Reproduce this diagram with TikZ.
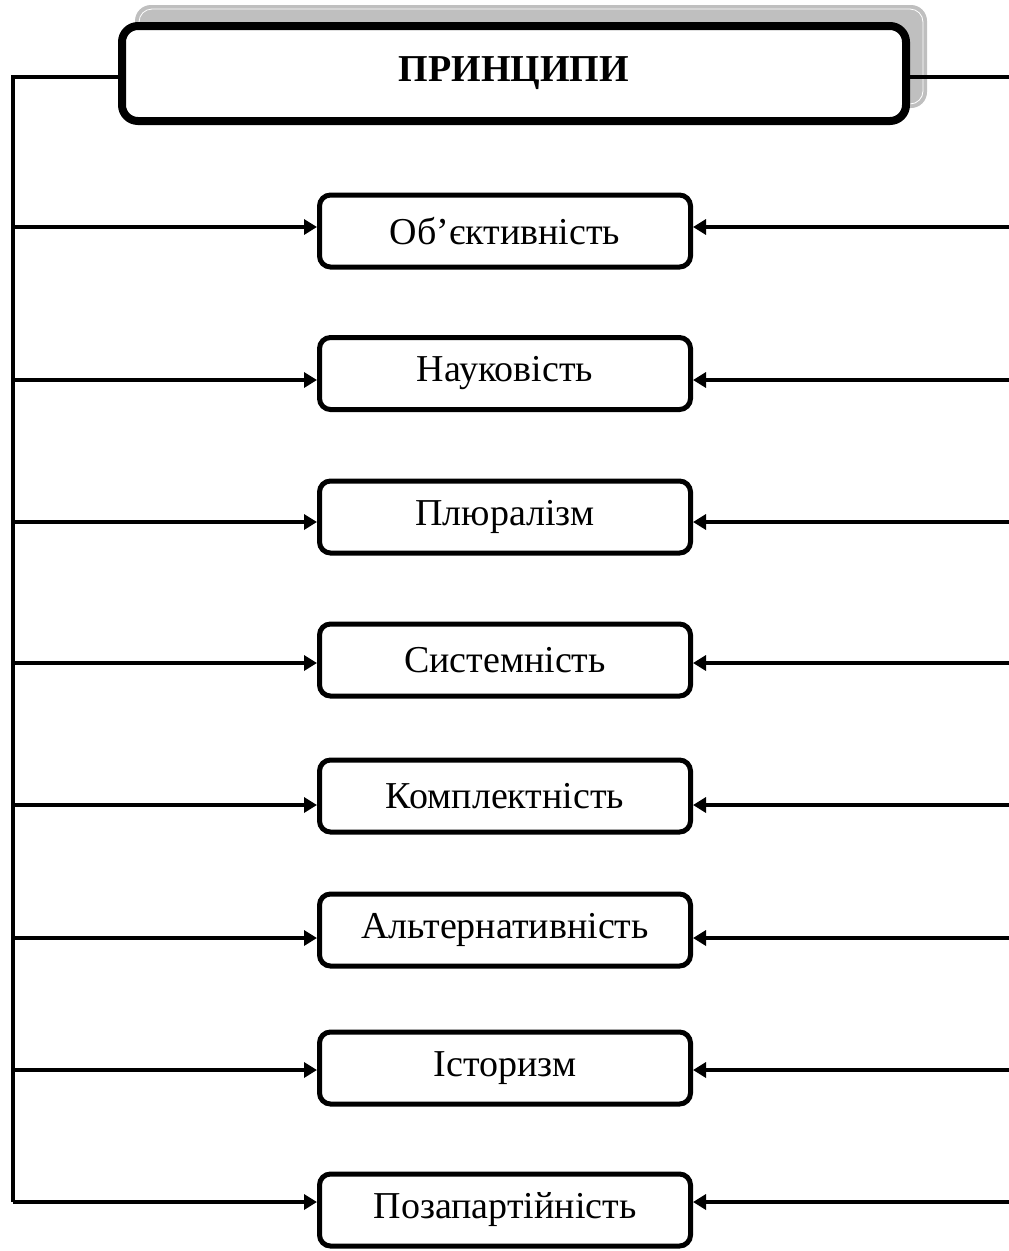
\documentclass[tikz,border=0pt]{standalone}
\usepackage{fontspec}
\setmainfont{Liberation Serif}
\usetikzlibrary{arrows.meta}
\tikzset{
  item/.style={draw, line width=5pt, rounded corners=11pt, minimum width=371pt, minimum height=72pt, inner sep=0pt, font=\fontsize{38}{44}\selectfont},
  head/.style={draw, line width=8pt, rounded corners=16pt, fill=white, minimum width=784pt, minimum height=95pt, inner sep=0pt, font=\fontsize{38}{44}\selectfont\bfseries},
  conn/.style={line width=3.5pt},
  arr/.style={conn, -{Triangle[length=13pt,width=15pt]}}
}
\begin{document}
\begin{tikzpicture}[x=1pt,y=-1pt]
\useasboundingbox (0,0) rectangle (1009,1251);
% shadow of title box
\fill[gray!50!white, rounded corners=16pt] (135,5) rectangle (927,108);
\draw[white, line width=0.8pt, rounded corners=13pt] (139,9) rectangle (923,104);
\node[head] (top) at (514,73.5) {ПРИНЦИПИ};
\coordinate (L0) at (13,77);
\coordinate (R0) at (1009,77);
\draw[conn] (L0 -| top.west) -- (L0) -- (13,1202);
\draw[conn] (top.east |- R0) -- (R0);
\foreach \i/\cy/\ay/\t in {1/231/227/Об’єктивність, 2/373.5/380/Науковість, 3/517/522/Плюралізм, 4/660/663/Системність, 5/796/805/Комплектність, 6/930/938/Альтернативність, 7/1068/1070/Історизм, 8/1210/1202/Позапартійність}{
  \node[item] (b\i) at (505,\cy) {\t};
  \coordinate (L\i) at (13,\ay);
  \coordinate (R\i) at (1009,\ay);
  \draw[arr] (L\i) -- (L\i -| b\i.west);
  \draw[arr] (R\i) -- (R\i -| b\i.east);
}
\end{tikzpicture}
\end{document}
